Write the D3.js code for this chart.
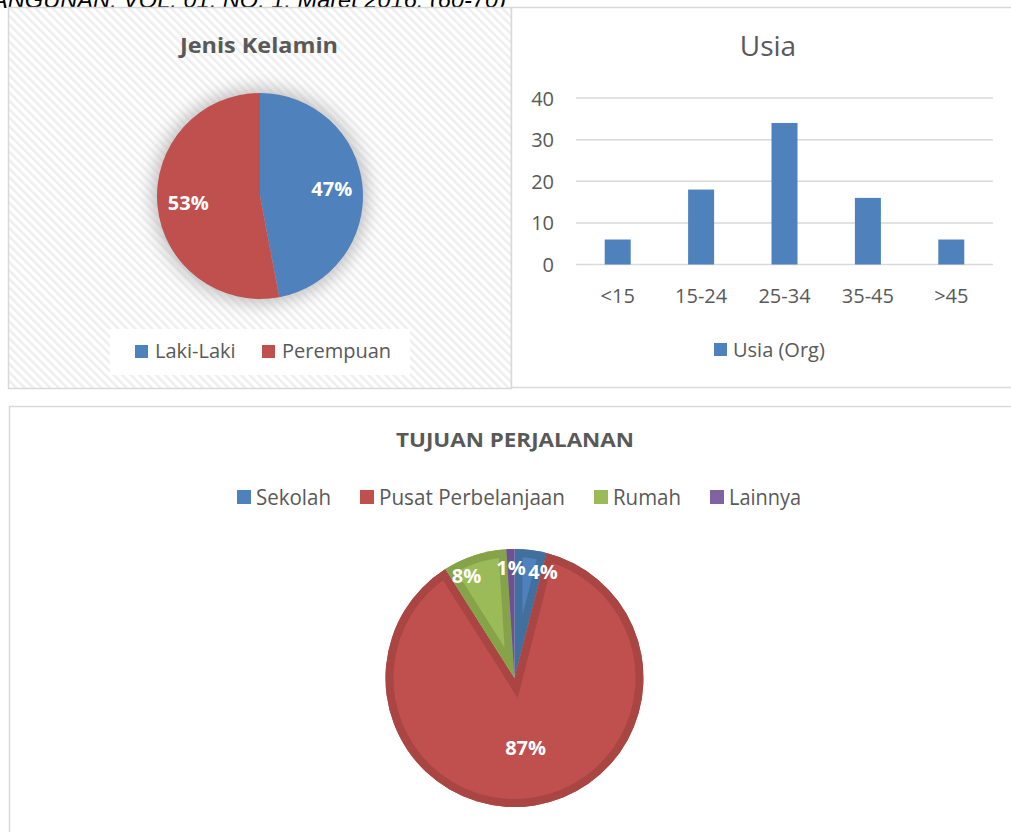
<!DOCTYPE html>
<html lang="id">
<head>
<meta charset="UTF-8">
<title>Karakteristik Responden</title>
<script src="https://d3js.org/d3.v7.min.js"></script>
<style>
    body { margin: 0; background: #fff; font-family: "Open Sans", sans-serif; }
    svg { display: block; }
</style>
</head>
<body>
<svg id="chart" width="1011" height="832"></svg>
<script>
// data
const genderLabels = ["Laki-Laki", "Perempuan"];
const genderValues = [47, 53];

const ageGroups = ["<15", "15-24", "25-34", "35-45", ">45"];
const ageValues = [6, 18, 34, 16, 6];
const ageTicks = [0, 10, 20, 30, 40];

const tripLabels = ["Sekolah", "Pusat Perbelanjaan", "Rumah", "Lainnya"];
const tripValues = [4, 87, 8, 1];

const blue = "#4f81bd", red = "#c0504d", green = "#9bbb59", purple = "#8064a2";
const textCol = "#595959";

const svg = d3.select("#chart");
const defs = svg.append("defs");

// hatch pattern for the first panel
const pat = defs.append("pattern")
    .attr("id", "hatch").attr("patternUnits", "userSpaceOnUse")
    .attr("width", 6).attr("height", 6)
    .attr("patternTransform", "rotate(-45)");
pat.append("rect").attr("width", 6).attr("height", 6).attr("fill", "#fff");
pat.append("rect").attr("width", 2.5).attr("height", 6).attr("fill", "#eeeeee");

const blur = defs.append("filter").attr("id", "glow")
    .attr("x", "-30%").attr("y", "-30%").attr("width", "160%").attr("height", "160%");
blur.append("feGaussianBlur").attr("stdDeviation", 9);

// header fragment (cut off by the page top)
svg.append("text")
    .attr("x", -8).attr("y", 8)
    .attr("font-size", 24).attr("font-style", "italic")
    .attr("font-family", "'Liberation Sans', sans-serif")
    .attr("textLength", 514).attr("lengthAdjust", "spacingAndGlyphs")
    .attr("fill", "#000")
    .text("ANGUNAN, VOL. 01, NO. 1, Maret 2016. (60-70)");

// ---------- panel 1: Jenis Kelamin ----------
svg.append("rect").attr("x", 8.5).attr("y", 7.5).attr("width", 503).attr("height", 381)
    .attr("fill", "url(#hatch)").attr("stroke", "#d9d9d9").attr("stroke-width", 1.5);

svg.append("text").attr("x", 259).attr("y", 53).attr("text-anchor", "middle")
    .attr("font-size", 22).attr("font-weight", "bold").attr("fill", textCol)
    .attr("textLength", 158).attr("lengthAdjust", "spacingAndGlyphs")
    .text("Jenis Kelamin");

const p1 = svg.append("g").attr("transform", "translate(260,196)");
const r1 = 103;
p1.append("circle").attr("r", r1 + 4).attr("fill", "#bbb").attr("filter", "url(#glow)");

const pie1 = d3.pie().sort(null)(genderValues);
const arc1 = d3.arc().innerRadius(0).outerRadius(r1);
const col1 = d3.scaleOrdinal().domain(genderLabels).range([blue, red]);

p1.selectAll("path.slice").data(pie1).join("path")
    .attr("class", "slice")
    .attr("d", arc1)
    .attr("fill", (d, i) => col1(genderLabels[i]));

const lab1 = d3.arc().innerRadius(r1 * 0.7).outerRadius(r1 * 0.7);
p1.selectAll("text").data(pie1).join("text")
    .attr("transform", d => {
        const c = lab1.centroid(d);
        return `translate(${c[0]},${c[1] + 7})`;
    })
    .attr("text-anchor", "middle").attr("font-size", 20).attr("font-weight", "bold")
    .attr("fill", "#fff")
    .text(d => d.data + "%");

svg.append("rect").attr("x", 110).attr("y", 329).attr("width", 300).attr("height", 46).attr("fill", "#fff");
const leg1 = svg.append("g").attr("transform", "translate(135,351)");
const leg1X = [0, 127];
genderLabels.forEach((l, i) => {
    const g = leg1.append("g").attr("transform", `translate(${leg1X[i]},0)`);
    g.append("rect").attr("x", 0).attr("y", -6).attr("width", 13).attr("height", 13).attr("fill", col1(l));
    g.append("text").attr("x", 20).attr("y", 7).attr("font-size", 20).attr("fill", textCol).text(l);
});

// ---------- panel 2: Usia ----------
svg.append("rect").attr("x", 511.5).attr("y", 7.5).attr("width", 503).attr("height", 380)
    .attr("fill", "#fff").attr("stroke", "#d9d9d9").attr("stroke-width", 1.5);

svg.append("text").attr("x", 768).attr("y", 56).attr("text-anchor", "middle")
    .attr("font-size", 28).attr("fill", textCol).text("Usia");

const x2 = d3.scaleBand().domain(ageGroups).range([576, 993]).paddingInner(0).paddingOuter(0);
const y2 = d3.scaleLinear().domain([0, 40]).range([264.5, 98]);

const grid = svg.append("g");
grid.selectAll("line").data(ageTicks).join("line")
    .attr("x1", 576).attr("x2", 993)
    .attr("y1", d => y2(d)).attr("y2", d => y2(d))
    .attr("stroke", "#d9d9d9").attr("stroke-width", 1.5);

const yAxis = svg.append("g").attr("transform", "translate(554,0)")
    .call(d3.axisLeft(y2).tickValues(ageTicks).tickSize(0).tickPadding(0));
yAxis.select(".domain").remove();
yAxis.selectAll("text").attr("font-size", 20).attr("fill", textCol)
    .attr("font-family", "'Open Sans', sans-serif").attr("dy", "0.35em");

const barW = 26;
svg.selectAll("rect.bar").data(ageValues).join("rect")
    .attr("class", "bar")
    .attr("x", (d, i) => x2(ageGroups[i]) + x2.bandwidth() / 2 - barW / 2)
    .attr("y", d => y2(d))
    .attr("width", barW)
    .attr("height", d => y2(0) - y2(d))
    .attr("fill", blue);

const xAxis = svg.append("g").attr("transform", "translate(0,296)")
    .call(d3.axisBottom(x2).tickSize(0).tickPadding(0));
xAxis.select(".domain").remove();
xAxis.selectAll("text").attr("font-size", 20).attr("fill", textCol)
    .attr("font-family", "'Open Sans', sans-serif").attr("dy", "0.35em");

svg.append("rect").attr("x", 714).attr("y", 343).attr("width", 13).attr("height", 13).attr("fill", blue);
svg.append("text").attr("x", 733).attr("y", 357).attr("font-size", 20).attr("fill", textCol).text("Usia (Org)");

// ---------- panel 3: Tujuan Perjalanan ----------
svg.append("rect").attr("x", 9.5).attr("y", 406.5).attr("width", 1010).attr("height", 440)
    .attr("fill", "#fff").attr("stroke", "#d9d9d9").attr("stroke-width", 1.5);

svg.append("text").attr("x", 515).attr("y", 447).attr("text-anchor", "middle")
    .attr("font-size", 19).attr("font-weight", "bold").attr("fill", textCol)
    .attr("textLength", 238).attr("lengthAdjust", "spacingAndGlyphs")
    .text("TUJUAN PERJALANAN");

const col3 = d3.scaleOrdinal().domain(tripLabels).range([blue, red, green, purple]);
const dark3 = d3.scaleOrdinal().domain(tripLabels).range(["#41709f", "#a94543", "#86a34a", "#6c5290"]);
const leg3X = [237, 360, 594, 710];
const leg3W = [75, 186, 68, 72];
tripLabels.forEach((l, i) => {
    const g = svg.append("g").attr("transform", `translate(${leg3X[i]},497)`);
    g.append("rect").attr("x", 0).attr("y", -7).attr("width", 14).attr("height", 14).attr("fill", col3(l));
    g.append("text").attr("x", 19).attr("y", 8).attr("font-size", 21).attr("fill", textCol)
        .attr("textLength", leg3W[i]).attr("lengthAdjust", "spacingAndGlyphs")
        .text(l);
});

const r3 = 129;
const p3 = svg.append("g").attr("transform", "translate(514.5,678)");
const pie3 = d3.pie().sort(null)(tripValues);
const arc3 = d3.arc().innerRadius(0).outerRadius(r3);

// clip each slice to itself so a wide stroke gives an inner bevel band
pie3.forEach((d, i) => {
    defs.append("clipPath").attr("id", "clip" + i).append("path").attr("d", arc3(d));
});

const slices = p3.selectAll("g.s").data(pie3).join("g").attr("class", "s");
slices.append("path").attr("d", arc3)
    .attr("fill", (d, i) => col3(tripLabels[i]));
slices.append("path").attr("d", arc3)
    .attr("fill", "none")
    .attr("stroke", (d, i) => dark3(tripLabels[i]))
    .attr("stroke-width", 16)
    .attr("clip-path", (d, i) => `url(#clip${i})`);

// label radius (fraction of r) and sideways nudge, like Excel's best fit
const labR3 = [0.83, 0.55, 0.83, 0.85];
const labDx3 = [15, 0, -15, 0];
p3.append("g").selectAll("text").data(pie3).join("text")
    .attr("transform", (d, i) => {
        const a = (d.startAngle + d.endAngle) / 2;
        const rr = r3 * labR3[i];
        return `translate(${Math.sin(a) * rr + labDx3[i]},${-Math.cos(a) * rr + 7})`;
    })
    .attr("text-anchor", "middle").attr("font-size", 20).attr("font-weight", "bold")
    .attr("fill", "#fff")
    .text(d => d.data + "%");
</script>
</body>
</html>
